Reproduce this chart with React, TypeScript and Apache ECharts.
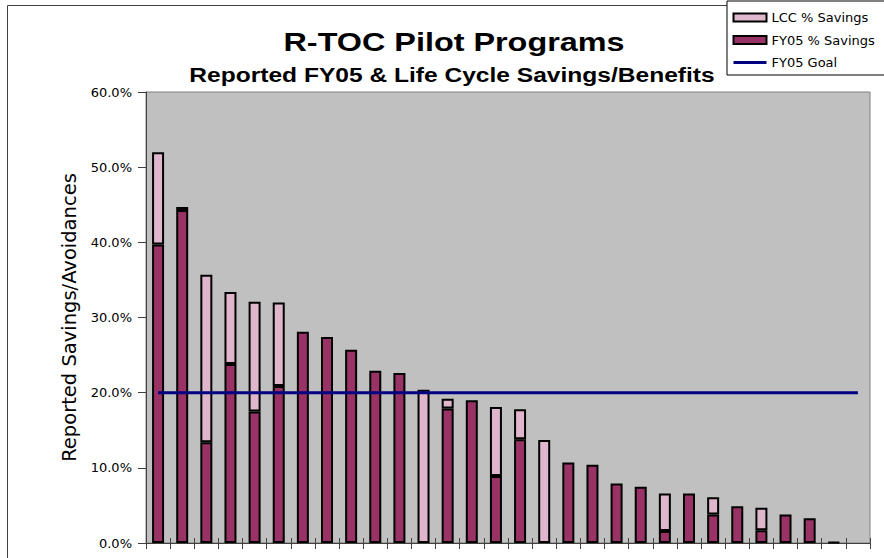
import React, { useEffect, useRef } from "react";
import * as echarts from "echarts";

const categories = Array.from({ length: 30 }, (_, i) => "P" + (i + 1));
// FY05 % savings (percent), null = no segment
const fy05Savings: (number | null)[] = [
  39.7, 44.3, 13.4, 23.8, 17.5, 20.9, 28.1, 27.4, 25.7, 22.9,
  22.6, null, 17.9, 19.0, 8.9, 13.8, null, 10.7, 10.4, 7.9,
  7.5, 1.6, 6.6, 3.8, 4.9, 1.7, 3.8, 3.3, 0.1, null,
];
// Life-cycle (LCC) % savings stacked above FY05
const lccSavings: (number | null)[] = [
  12.3, 0.4, 22.3, 9.6, 14.6, 11.1, null, null, null, null,
  null, 20.4, 1.3, null, 9.2, 4.0, 13.7, null, null, null,
  null, 5.0, null, 2.3, null, 3.0, null, null, null, null,
];
const goalValue = 20;
const goalSeries = categories.map(() => goalValue);
const yTicks = [0, 10, 20, 30, 40, 50, 60];

const titleText = "R-TOC Pilot Programs";
const subtitleText = "Reported FY05 & Life Cycle Savings/Benefits";

export default function App() {
  const ref = useRef<HTMLDivElement>(null);
  useEffect(() => {
    if (!ref.current) return;
    const chart = echarts.init(ref.current, undefined, { renderer: "svg" });
    const option: any = {
      animation: false,
      backgroundColor: "#ffffff",
      graphic: [
        {
          type: "rect",
          shape: { x: 7.5, y: 5.5, width: 1000, height: 1000 },
          style: { fill: "none", stroke: "#404040", lineWidth: 1 },
          silent: true,
          z: -10,
        },
        {
          type: "text",
          x: 454,
          y: 42.2,
          scaleX: 1.27,
          style: {
            text: titleText,
            font: "bold 25.5px 'Liberation Sans', Arial, sans-serif",
            fill: "#000",
            textAlign: "center",
            textVerticalAlign: "middle",
          },
        },
        {
          type: "text",
          x: 452,
          y: 75,
          scaleX: 1.17,
          style: {
            text: subtitleText,
            font: "bold 21px 'Liberation Sans', Arial, sans-serif",
            fill: "#000",
            textAlign: "center",
            textVerticalAlign: "middle",
          },
        },
      ],
      legend: {
        orient: "vertical",
        left: 727,
        top: 1,
        padding: [10, 20, 6, 5],
        itemGap: 9.5,
        itemWidth: 33,
        itemHeight: 8,
        backgroundColor: "#ffffff",
        borderColor: "#000000",
        borderWidth: 1,
        borderRadius: 0,
        textStyle: { fontFamily: "DejaVu Sans", fontSize: 13, color: "#000" },
        data: [
          { name: "LCC % Savings", icon: "rect" },
          { name: "FY05 % Savings", icon: "rect" },
          {
            name: "FY05 Goal",
            itemStyle: { opacity: 0 },
            lineStyle: { color: "#000080", width: 3 },
          },
        ],
        z: 10,
      },
      grid: {
        left: 146,
        top: 92,
        right: 14,
        bottom: 15,
        show: true,
        backgroundColor: "#C0C0C0",
        borderColor: "#808080",
        borderWidth: 1,
      },
      xAxis: [
        {
          type: "category",
          data: categories,
          boundaryGap: true,
          axisLine: { lineStyle: { color: "#404040", width: 1 } },
          axisTick: { show: true, interval: 0, length: 6, lineStyle: { color: "#404040" } },
          axisLabel: { show: false },
        },
        {
          type: "category",
          data: categories,
          position: "bottom",
          boundaryGap: true,
          axisLine: { show: false },
          axisTick: { show: true, inside: true, interval: 0, length: 5, lineStyle: { color: "#404040" } },
          axisLabel: { show: false },
        },
      ],
      yAxis: {
        type: "value",
        min: yTicks[0],
        max: yTicks[yTicks.length - 1],
        interval: 10,
        splitLine: { show: false },
        axisLine: { show: true, lineStyle: { color: "#404040", width: 1 } },
        axisTick: { show: true, length: 8, lineStyle: { color: "#404040" } },
        axisLabel: {
          margin: 14,
          fontFamily: "DejaVu Sans",
          fontSize: 13,
          color: "#000",
          formatter: (v: number) => v.toFixed(1) + "%",
        },
        name: "Reported Savings/Avoidances",
        nameLocation: "middle",
        nameRotate: 90,
        nameGap: 64,
        nameTextStyle: { fontFamily: "DejaVu Sans", fontSize: 19.5, color: "#000" },
      },
      series: [
        {
          name: "FY05 % Savings",
          type: "bar",
          stack: "s",
          barWidth: 12,
          data: fy05Savings.map((v) => (v === null ? "-" : v)),
          itemStyle: { color: "#993366", borderColor: "#000", borderWidth: 2 },
        },
        {
          name: "LCC % Savings",
          type: "bar",
          stack: "s",
          barWidth: 12,
          data: lccSavings.map((v) => (v === null ? "-" : v)),
          itemStyle: { color: "#DFB6CB", borderColor: "#000", borderWidth: 2 },
        },
        {
          name: "FY05 Goal",
          type: "line",
          data: goalSeries,
          symbol: "none",
          lineStyle: { color: "#000080", width: 3 },
          itemStyle: { color: "#000080" },
          z: 5,
        },
      ],
    };
    chart.setOption(option);
    return () => chart.dispose();
  }, []);
  return (
    <div
      ref={ref}
      style={{ position: "fixed", left: 0, top: 0, width: 884, height: 558 }}
    />
  );
}
